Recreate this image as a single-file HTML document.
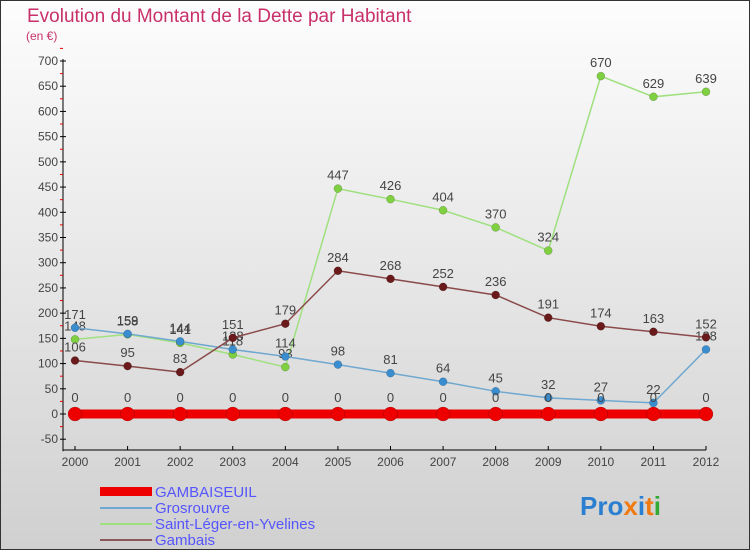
<!DOCTYPE html>
<html><head><meta charset="utf-8">
<style>
body{margin:0;width:750px;height:550px;overflow:hidden;font-family:"Liberation Sans",sans-serif}
#c{position:absolute;left:0;top:0;width:748px;height:548px;border:1px solid #333;background:linear-gradient(#fdfdfd,#d0d0d0)}
</style></head><body>
<div id="c">
<svg id="s" width="750" height="550" style="position:absolute;left:-1px;top:-1px">
<text x="27" y="22" font-size="19" fill="#c8306a">Evolution du Montant de la Dette par Habitant</text>
<text x="26" y="40" font-size="12" fill="#c8306a">(en €)</text>
<g id="ax"></g><g id="ser"></g>
<g>
<rect x="100" y="487" width="52" height="9" fill="#e00"/>
<line x1="100" y1="508" x2="152" y2="508" stroke="#6fa8d0" stroke-width="2"/>
<line x1="100" y1="524" x2="152" y2="524" stroke="#9fe07f" stroke-width="2"/>
<line x1="100" y1="540" x2="152" y2="540" stroke="#8a5858" stroke-width="2"/>
<g font-size="15" fill="#5555ff">
<text x="155" y="497">GAMBAISEUIL</text>
<text x="155" y="513">Grosrouvre</text>
<text x="155" y="529">Saint-Léger-en-Yvelines</text>
<text x="155" y="545">Gambais</text>
</g></g>
<text x="580" y="515" font-size="26" font-weight="bold"><tspan fill="#2a7fd0">Pro</tspan><tspan fill="#f07a10">x</tspan><tspan fill="#2a7fd0">i</tspan><tspan fill="#f07a10">t</tspan><tspan fill="#3a3">i</tspan></text>
</svg></div>
<script>
const years=[2000,2001,2002,2003,2004,2005,2006,2007,2008,2009,2010,2011,2012];
const yTicks=[-50,0,50,100,150,200,250,300,350,400,450,500,550,600,650,700];
const gambaiseuil=[0,0,0,0,0,0,0,0,0,0,0,0,0];
const grosrouvre=[171,159,144,128,114,98,81,64,45,32,27,22,128];
const saintLeger=[148,158,141,118,93,447,426,404,370,324,670,629,639];
const gambais=[106,95,83,151,179,284,268,252,236,191,174,163,152];
const NS='http://www.w3.org/2000/svg';
const X=i=>75+i*(706-75)/(years.length-1);
const Y=v=>414-v*(414-61)/700;
function mk(t,a,p){const e=document.createElementNS(NS,t);for(const k in a)e.setAttribute(k,a[k]);p.appendChild(e);return e;}
const ax=document.getElementById('ax'),ser=document.getElementById('ser');
let yl=mk('line',{x1:63,y1:Y(700)-2,x2:63,y2:Y(-50)+12,stroke:'#000'},ax);


let xl=mk('line',{x1:63,y1:450,x2:706,y2:450,stroke:'#000'},ax);


yTicks.forEach(v=>{
 mk('line',{x1:60,y1:Y(v),x2:66,y2:Y(v),stroke:'#000'},ax);
 mk('line',{x1:60,y1:Y(v+25),x2:63,y2:Y(v+25),stroke:'#e00'},ax);
 const t=mk('text',{x:58,y:Y(v)+4,'font-size':12,fill:'#444','text-anchor':'end'},ax);t.textContent=v;
 
 
});
years.forEach((y,i)=>{
 mk('line',{x1:X(i),y1:446,x2:X(i),y2:450,stroke:'#000'},ax);
 const t=mk('text',{x:X(i),y:466,'font-size':12,fill:'#444','text-anchor':'middle'},ax);t.textContent=y;
 
 
});
function series(d,col,fill,w,r,name){
 const g=mk('g',{},ser);
 
 
 mk('polyline',{points:d.map((v,i)=>X(i)+','+Y(v)).join(' '),fill:'none',stroke:col,'stroke-width':w},g);
 d.forEach((v,i)=>{
  const c=mk('circle',{cx:X(i),cy:Y(v),r:r,fill:fill,stroke:'rgba(0,0,0,0.3)','stroke-width':0.5},g);
  
  
  const t=mk('text',{x:X(i),y:Y(v)-(r+5),'font-size':13,fill:'#444','text-anchor':'middle'},g);t.textContent=v;
  
  
 });
}
series(saintLeger,'#9fe07f','#7fd040',1.5,4,'saint-leger');
series(grosrouvre,'#6fa8d0','#3a8ed0',1.5,4,'grosrouvre');
series(gambais,'#8a4a4a','#6a1a1a',1.5,4,'gambais');
series(gambaiseuil,'#e00','#e00',9,7,'gambaiseuil');
</script>
</body></html>
